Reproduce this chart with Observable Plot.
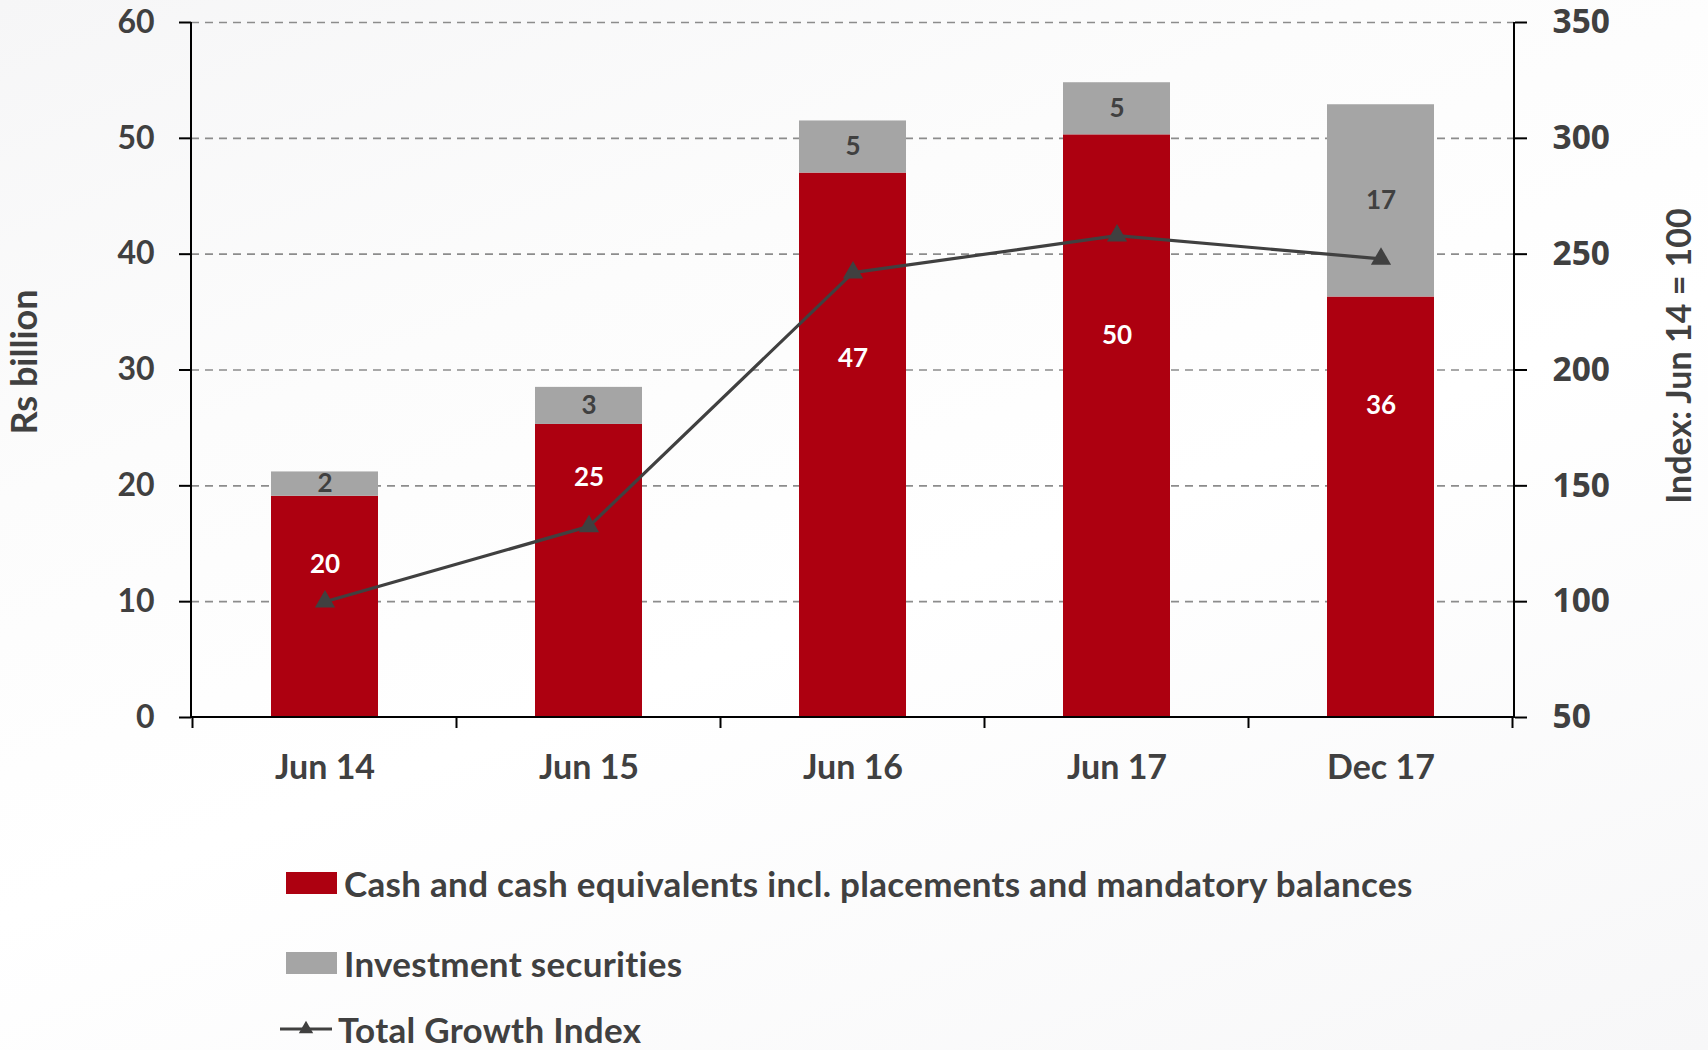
<!DOCTYPE html>
<html><head><meta charset="utf-8">
<script src="https://cdn.jsdelivr.net/npm/d3@7"></script>
<script src="https://cdn.jsdelivr.net/npm/@observablehq/plot@0.6"></script>
<style>
html,body{margin:0;padding:0;}
body{width:1708px;height:1050px;overflow:hidden;font-family:Lato,sans-serif;background:linear-gradient(160deg,#f6f6f7 0%,#fcfcfc 30%,#ffffff 55%,#f7f7f8 100%);}
#chart svg{display:block;}
#legend{position:relative;height:250px;}
.item{position:absolute;left:286px;display:flex;align-items:center;height:22px;line-height:1;font-weight:bold;font-size:35px;letter-spacing:0.3px;font-family:Lato,sans-serif;color:#404040;white-space:nowrap;}
.sw{width:51px;height:22px;margin-right:7px;flex:none;}
</style></head><body>
<div id="chart"></div>
<div id="legend"></div>
<script>
// ---- data ----
const categories = ["Jun 14", "Jun 15", "Jun 16", "Jun 17", "Dec 17"];
const cashValues = [19.1, 25.3, 47.0, 50.3, 36.3];
const investValues = [2.1, 3.2, 4.5, 4.5, 16.6];
const cashLabels = ["20", "25", "47", "50", "36"];
const investLabels = ["2", "3", "5", "5", "17"];
const cashLabelAt = [13.2, 20.7, 31.0, 33.0, 26.9];
const indexValues = [100, 132.5, 242, 258, 248];
const leftTicks = [0, 10, 20, 30, 40, 50, 60];
const rightTicks = [50, 100, 150, 200, 250, 300, 350];
const seriesNames = ["Cash and cash equivalents incl. placements and mandatory balances", "Investment securities", "Total Growth Index"];
const leftTitle = "Rs billion";
const rightTitle = "Index: Jun 14 = 100";

// ---- styles ----
const RED = "#ad0010", GRAY = "#a5a5a5", LINE = "#404040", TXT = "#404040";
const FONT = "Lato, sans-serif";

const L0 = leftTicks[0], L1 = leftTicks[leftTicks.length - 1];
const R0 = rightTicks[0], R1 = rightTicks[rightTicks.length - 1];
const idxToY = v => L0 + (v - R0) / (R1 - R0) * (L1 - L0);
const yToIdx = y => R0 + (y - L0) / (L1 - L0) * (R1 - R0);

const rows = [];
categories.forEach((c, i) => {
  rows.push({cat: c, series: seriesNames[0], value: cashValues[i]});
  rows.push({cat: c, series: seriesNames[1], value: investValues[i]});
});
const lineRows = categories.map((c, i) => ({cat: c, idx: indexValues[i]}));

const PAD_IN = 0.596;

function axisFrame(index, scales, values, dims) {
  const {width, marginLeft, marginRight} = dims;
  const xl = marginLeft, xr = width - marginRight;
  const yTop = scales.y(L1), yBot = scales.y(L0);
  const g = d3.create("svg:g").attr("stroke", "#000").attr("stroke-width", 2).attr("fill", "none");
  g.append("line").attr("x1", xl).attr("x2", xl).attr("y1", yTop).attr("y2", yBot + 1);
  g.append("line").attr("x1", xr).attr("x2", xr).attr("y1", yTop).attr("y2", yBot + 1);
  g.append("line").attr("x1", xl).attr("x2", xr).attr("y1", yBot).attr("y2", yBot);
  const sx = scales.x;
  const step = typeof sx.step === "function" ? sx.step() : sx(categories[1]) - sx(categories[0]);
  const bw = typeof sx.bandwidth === "function" ? sx.bandwidth() : step * (1 - PAD_IN);
  const bounds = categories.map(c => sx(c) + bw / 2 - step / 2);
  bounds.push(sx(categories[categories.length - 1]) + bw / 2 + step / 2);
  for (const b of bounds) g.append("line").attr("x1", b).attr("x2", b).attr("y1", yBot).attr("y2", yBot + 11);
  return g.node();
}

const chart = Plot.plot({
  width: 1708,
  height: 800,
  marginLeft: 191,
  marginRight: 194,
  marginTop: 22,
  marginBottom: 83,
  style: {background: "transparent", fontFamily: FONT, color: TXT, overflow: "visible"},
  x: {domain: categories, paddingInner: PAD_IN, paddingOuter: PAD_IN / 2, label: null},
  y: {domain: [L0, L1], label: null},
  color: {domain: seriesNames.slice(0, 2), range: [RED, GRAY]},
  marks: [
    Plot.ruleY(leftTicks.filter(t => t > L0), {stroke: "#8c8c8c", strokeWidth: 1.6, strokeDasharray: "8,6"}),
    Plot.barY(rows, {x: "cat", y: "value", fill: "series"}),
    axisFrame,
    Plot.axisY({anchor: "left", ticks: leftTicks, tickSize: 12, tickPadding: 25, stroke: "#000", strokeWidth: 2,
      fill: TXT, fontSize: 32, fontWeight: "bold", fontFamily: FONT, label: null, tickFormat: d => String(d)}),
    Plot.axisY({anchor: "right", ticks: leftTicks, tickSize: 12, tickPadding: 26, stroke: "#000", strokeWidth: 2,
      fill: TXT, fontSize: 33.5, fontWeight: "bold", fontFamily: "'Open Sans', sans-serif", label: null,
      tickFormat: d => String(Math.round(yToIdx(d)))}),
    Plot.axisX({anchor: "bottom", tickSize: 0, tickPadding: 37, fill: TXT, fontSize: 34, fontWeight: "bold", fontFamily: FONT, label: null}),
    Plot.text(categories, {x: d => d, y: (d, i) => cashLabelAt[i], text: (d, i) => cashLabels[i],
      fill: "#ffffff", fontSize: 26, fontWeight: "bold", fontFamily: FONT}),
    Plot.text(categories, {x: d => d, y: (d, i) => cashValues[i] + investValues[i] / 2, text: (d, i) => investLabels[i],
      fill: TXT, fontSize: 26, fontWeight: "bold", fontFamily: FONT}),
    Plot.line(lineRows, {x: "cat", y: d => idxToY(d.idx), stroke: LINE, strokeWidth: 3.2}),
    Plot.dot(lineRows, {x: "cat", y: d => idxToY(d.idx), symbol: "triangle", r: 7.5, fill: LINE, stroke: "none"}),
    Plot.text([leftTitle], {frameAnchor: "left", textAnchor: "middle", dx: -166, dy: -8, rotate: -90, fill: TXT, fontSize: 36, fontWeight: "bold", fontFamily: FONT}),
    Plot.text([rightTitle], {frameAnchor: "right", textAnchor: "middle", dx: 166, dy: -14, rotate: -90, fill: TXT, fontSize: 34, fontWeight: "bold", fontFamily: FONT})
  ]
});
document.getElementById("chart").append(chart);

// ---- legend ----
const legend = d3.select("#legend");
const it1 = legend.append("div").attr("class", "item").style("top", "72px");
it1.append("div").attr("class", "sw").style("background", RED);
it1.append("span").text(seriesNames[0]);
const it2 = legend.append("div").attr("class", "item").style("top", "152px");
it2.append("div").attr("class", "sw").style("background", GRAY);
it2.append("span").text(seriesNames[1]);
const it3 = legend.append("div").attr("class", "item").style("top", "218px").style("left", "280px");
const ls = it3.append("svg").attr("width", 52).attr("height", 22).style("margin-right", "6px").style("flex", "none");
ls.append("line").attr("x1", 0).attr("x2", 52).attr("y1", 11).attr("y2", 11).attr("stroke", LINE).attr("stroke-width", 3);
ls.append("path").attr("d", d3.symbol(d3.symbolTriangle, 90)()).attr("transform", "translate(26,11)").attr("fill", LINE);
it3.append("span").text(seriesNames[2]);
</script>
</body></html>
